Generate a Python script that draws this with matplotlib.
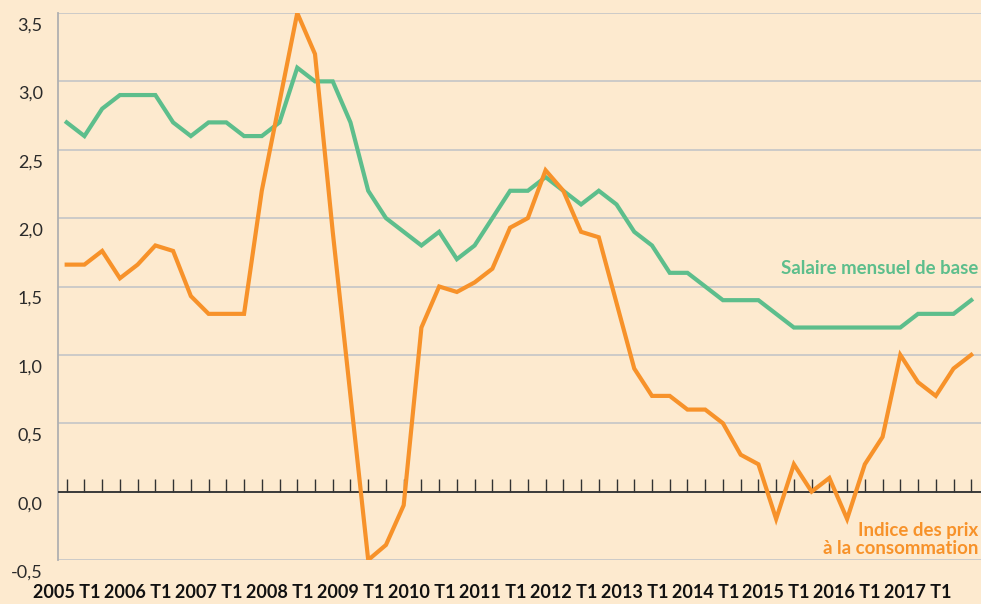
import matplotlib
matplotlib.use("Agg")
import matplotlib.pyplot as plt
import matplotlib.transforms as mtransforms

# quarterly series, 2005 T1 .. 2017 T4
years = list(range(2005, 2018))
salaire = [2.7, 2.6, 2.8, 2.9, 2.9, 2.9, 2.7, 2.6, 2.7, 2.7, 2.6, 2.6,
           2.7, 3.1, 3.0, 3.0, 2.7, 2.2, 2.0, 1.9, 1.8, 1.9, 1.7, 1.8,
           2.0, 2.2, 2.2, 2.3, 2.2, 2.1, 2.2, 2.1, 1.9, 1.8, 1.6, 1.6,
           1.5, 1.4, 1.4, 1.4, 1.3, 1.2, 1.2, 1.2, 1.2, 1.2, 1.2, 1.2,
           1.3, 1.3, 1.3, 1.4]
prix = [1.66, 1.66, 1.76, 1.56, 1.66, 1.80, 1.76, 1.43, 1.3, 1.3, 1.3, 2.2,
        2.85, 3.5, 3.2, 1.9, 0.7, -0.5, -0.39, -0.1, 1.2, 1.5, 1.46, 1.53,
        1.63, 1.93, 2.0, 2.35, 2.2, 1.9, 1.86, 1.38, 0.9, 0.7, 0.7, 0.6,
        0.6, 0.5, 0.27, 0.2, -0.2, 0.2, 0.0, 0.1, -0.2, 0.2, 0.4, 1.0,
        0.8, 0.7, 0.9, 1.0]
x_labels = [f"{y} T1" for y in years]
y_ticks = [-0.5, 0.0, 0.5, 1.0, 1.5, 2.0, 2.5, 3.0, 3.5]

BG = "#fdeacf"
GREEN = "#5dbe8c"
ORANGE = "#f7922a"

fig = plt.figure(figsize=(9.81, 6.04), dpi=100)
fig.patch.set_facecolor(BG)
ax = fig.add_axes([58 / 981, 44 / 604, 1 - 58 / 981, 547 / 604])
ax.set_facecolor(BG)

q = list(range(len(salaire)))
ax.plot(q, salaire, color=GREEN, lw=3, zorder=4, solid_joinstyle="miter")
ax.plot(q, prix, color=ORANGE, lw=3, zorder=5, solid_joinstyle="miter")

# zero line with a small tick for every quarter
ax.axhline(0, color="#222222", lw=1.2, zorder=3)
ax.vlines(q, 0, 0.095, color="#333333", lw=1.0, zorder=3)

ax.set_xlim(-0.49, 51.55)
ax.set_ylim(-0.5, 3.5)
ax.set_yticks(y_ticks)
ax.set_yticklabels([f"{v:.1f}".replace(".", ",") for v in y_ticks],
                   family="Lato", fontsize=13, color="#2a2a2a")
ax.set_xticks(q[::4])
ax.set_xticklabels(x_labels, family="Lato", fontweight="bold",
                   fontsize=13, color="#111111")
ax.tick_params(axis="x", length=0, pad=17)
ax.tick_params(axis="y", length=0, pad=11)
off = mtransforms.ScaledTranslation(0, -11 / 100, fig.dpi_scale_trans)
for lab in ax.get_yticklabels():
    lab.set_transform(lab.get_transform() + off)

ax.grid(axis="y", color="#c4c5c7", lw=1.2, zorder=1)
ax.grid(axis="x", visible=False)
for s in ["top", "right", "bottom"]:
    ax.spines[s].set_visible(False)
ax.spines["left"].set_color("#b0b0b0")
ax.spines["left"].set_linewidth(1.3)

ax.text(51.4, 1.63, "Salaire mensuel de base", color=GREEN, ha="right",
        va="center", family="Lato", fontweight="bold", fontsize=13.4)
ax.text(51.4, -0.35, "Indice des prix\nà la consommation", color=ORANGE,
        ha="right", va="center", family="Lato", fontweight="bold",
        fontsize=13.4, linespacing=1.05, multialignment="right")

fig.savefig("out.png", dpi=100, facecolor=BG)
